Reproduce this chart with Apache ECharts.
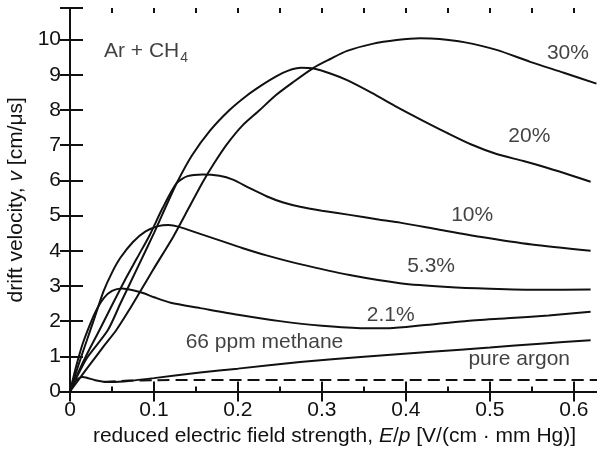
<!DOCTYPE html>
<html><head><meta charset="utf-8">
<script src="https://cdn.jsdelivr.net/npm/echarts@6/dist/echarts.min.js"></script>
<style>html,body{margin:0;padding:0;background:#fff;overflow:hidden}#c{width:597px;height:454px}</style>
</head><body><div id="c"></div>
<script>
// ---- data (E/p in V/(cm·mm Hg), drift velocity in cm/µs) ----
const c21 = [[0,0],[0.005,0.5],[0.01,0.95],[0.015,1.35],[0.021,1.74],[0.03,2.25],[0.04,2.65],[0.05,2.86],[0.062,2.93],[0.075,2.88],[0.087,2.8],[0.1,2.68],[0.12,2.52],[0.155,2.37],[0.2,2.18],[0.25,2.0],[0.3,1.87],[0.35,1.8],[0.38,1.8],[0.42,1.88],[0.47,2.0],[0.52,2.08],[0.57,2.16],[0.62,2.27]];
const c53 = [[0,0],[0.01,0.75],[0.02,1.45],[0.03,2.15],[0.04,2.85],[0.05,3.38],[0.06,3.8],[0.075,4.25],[0.09,4.55],[0.105,4.7],[0.117,4.73],[0.13,4.68],[0.155,4.48],[0.18,4.28],[0.205,4.08],[0.234,3.87],[0.274,3.62],[0.333,3.31],[0.393,3.08],[0.45,2.97],[0.5,2.92],[0.56,2.89],[0.62,2.9]];
const c10 = [[0,0],[0.01,0.55],[0.02,1.05],[0.035,1.74],[0.05,2.45],[0.065,3.15],[0.08,3.8],[0.095,4.45],[0.11,5.2],[0.127,5.92],[0.14,6.12],[0.158,6.17],[0.178,6.13],[0.194,6.02],[0.214,5.78],[0.234,5.55],[0.254,5.37],[0.274,5.25],[0.3,5.14],[0.333,5.02],[0.369,4.88],[0.393,4.8],[0.44,4.6],[0.488,4.4],[0.55,4.18],[0.62,4.0]];
const c20 = [[0,0],[0.01,0.5],[0.02,0.95],[0.045,1.74],[0.06,2.5],[0.08,3.5],[0.1,4.5],[0.115,5.3],[0.127,5.92],[0.145,6.7],[0.167,7.42],[0.19,8.0],[0.21,8.4],[0.228,8.7],[0.245,8.95],[0.26,9.12],[0.275,9.2],[0.29,9.18],[0.31,9.04],[0.33,8.85],[0.36,8.48],[0.389,8.09],[0.42,7.7],[0.449,7.35],[0.478,7.02],[0.508,6.75],[0.54,6.55],[0.568,6.36],[0.6,6.12],[0.62,5.96]];
const c30 = [[0,0],[0.02,0.65],[0.04,1.28],[0.055,1.74],[0.07,2.3],[0.085,2.9],[0.1,3.5],[0.123,4.4],[0.14,5.15],[0.158,5.95],[0.172,6.5],[0.187,7.03],[0.205,7.55],[0.226,8.0],[0.245,8.42],[0.265,8.78],[0.29,9.2],[0.31,9.45],[0.33,9.68],[0.36,9.88],[0.389,9.99],[0.417,10.04],[0.44,10.02],[0.469,9.93],[0.508,9.71],[0.548,9.37],[0.588,9.06],[0.627,8.75]];
const c66ppm = [[0,0],[0.005,0.25],[0.01,0.37],[0.015,0.41],[0.02,0.39],[0.03,0.32],[0.04,0.28],[0.05,0.27],[0.07,0.3],[0.1,0.38],[0.155,0.54],[0.2,0.65],[0.274,0.84],[0.35,0.99],[0.43,1.13],[0.5,1.25],[0.56,1.36],[0.62,1.46]];
const cArgon = [[0.04,0.27],[0.055,0.29],[0.07,0.31],[0.1,0.32],[0.15,0.33],[0.3,0.33],[0.45,0.33],[0.63,0.33]];

const annotTexts = ['Ar + CH{s|4}','30%','20%','10%','5.3%','2.1%','66 ppm methane','pure argon'];
const annotAt = [[0.0905,9.68],[0.593,9.62],[0.547,7.26],[0.479,5.02],[0.430,3.57],[0.382,2.17],[0.2316,1.41],[0.535,0.92]];

const xMin = 0, xMax = 0.63, xStep = 0.1, xMinorStep = 0.05;
const yMin = 0, yMax = 10.9, yStep = 1;
const xName = 'reduced electric field strength, {i|E}/{i|p} [V/(cm · mm Hg)]';
const yName = 'drift velocity, {i|v} [cm/μs]';

// ---- chart ----
const FONT = 'Liberation Sans, Arial, Helvetica, sans-serif';
const INK = '#111';
const chart = echarts.init(document.getElementById('c'), null, {renderer: 'canvas'});
const gridRect = {left: 70, top: 8, width: 529, height: 383.5, outerBoundsMode: 'none', containLabel: false};
const lineAx = {show: true, lineStyle: {color: INK, width: 2}};
const italicRich = {i: {fontStyle: 'italic', fontSize: 21, fontFamily: FONT, color: INK}};

function xLab(v) {
  const k = Math.round(v / xStep);
  if (Math.abs(v - k * xStep) > 1e-6 || v > 0.6 + 1e-9) return '';
  return k === 0 ? '0' : (k * xStep).toFixed(1);
}
function yLab(v) {
  const k = Math.round(v);
  if (Math.abs(v - k) > 1e-6 || v > 10 + 1e-9) return '';
  return String(k);
}

const curveDefs = [c21, c53, c10, c20, c30, c66ppm];
const series = curveDefs.map(d => ({
  type: 'line', data: d, smooth: 0.25, symbol: 'none', silent: true,
  xAxisIndex: 0, yAxisIndex: 0,
  lineStyle: {color: INK, width: 2}
}));
series.push({
  type: 'line', data: cArgon, smooth: 0.25, symbol: 'none', silent: true,
  xAxisIndex: 0, yAxisIndex: 0,
  lineStyle: {color: INK, width: 2, type: [12, 6]}
});
series.push({
  type: 'scatter', xAxisIndex: 0, yAxisIndex: 0, symbolSize: 0, silent: true,
  data: annotAt.map((p, i) => ({value: p, txt: annotTexts[i]})),
  label: {
    show: true, position: 'inside', formatter: p => p.data.txt,
    fontSize: 21, fontFamily: FONT, color: INK,
    rich: {s: {fontSize: 14, fontFamily: FONT, color: INK, padding: [15, 0, 0, 1]}}
  }
});

chart.setOption({
  animation: false,
  backgroundColor: '#fff',
  grid: [Object.assign({}, gridRect), Object.assign({}, gridRect)],
  xAxis: [
    {gridIndex: 0, type: 'value', position: 'bottom', min: xMin, max: xMax, interval: xStep,
     axisLine: lineAx, splitLine: {show: false},
     axisTick: {inside: true, length: 10, lineStyle: {color: INK, width: 2}},
     axisLabel: {margin: 8, fontSize: 21, fontFamily: FONT, color: INK, formatter: xLab, showMaxLabel: true},
     name: xName, nameLocation: 'middle', nameGap: 32,
     nameTextStyle: {fontSize: 21, fontFamily: FONT, color: INK, rich: italicRich}},
    {gridIndex: 0, type: 'value', position: 'top', min: xMin, max: xMax, interval: xStep,
     axisLine: lineAx, splitLine: {show: false}, axisLabel: {show: false},
     axisTick: {inside: true, length: 10, lineStyle: {color: INK, width: 2}}},
    {gridIndex: 1, type: 'value', position: 'bottom', min: xMin, max: xMax, interval: xMinorStep,
     axisLine: {show: false}, splitLine: {show: false}, axisLabel: {show: false},
     axisTick: {inside: true, length: 5, lineStyle: {color: INK, width: 2}}},
    {gridIndex: 1, type: 'value', position: 'top', min: xMin, max: xMax, interval: xMinorStep,
     axisLine: {show: false}, splitLine: {show: false}, axisLabel: {show: false},
     axisTick: {inside: true, length: 5, lineStyle: {color: INK, width: 2}}}
  ],
  yAxis: [
    {gridIndex: 0, type: 'value', position: 'left', min: yMin, max: yMax, interval: yStep,
     axisLine: lineAx, splitLine: {show: false},
     axisTick: {inside: true, length: 13, lineStyle: {color: INK, width: 2}},
     axisLabel: {margin: 9, fontSize: 21, fontFamily: FONT, color: INK, formatter: yLab},
     name: yName, nameLocation: 'middle', nameGap: 40,
     nameTextStyle: {fontSize: 21, fontFamily: FONT, color: INK, rich: italicRich}},
    {gridIndex: 0, type: 'value', position: 'right', min: yMin, max: yMax, interval: yStep,
     axisLine: lineAx, splitLine: {show: false}, axisLabel: {show: false},
     axisTick: {inside: true, length: 10, lineStyle: {color: INK, width: 2}}},
    {gridIndex: 1, type: 'value', show: false, min: yMin, max: yMax}
  ],
  series: series
});
</script>
</body></html>
